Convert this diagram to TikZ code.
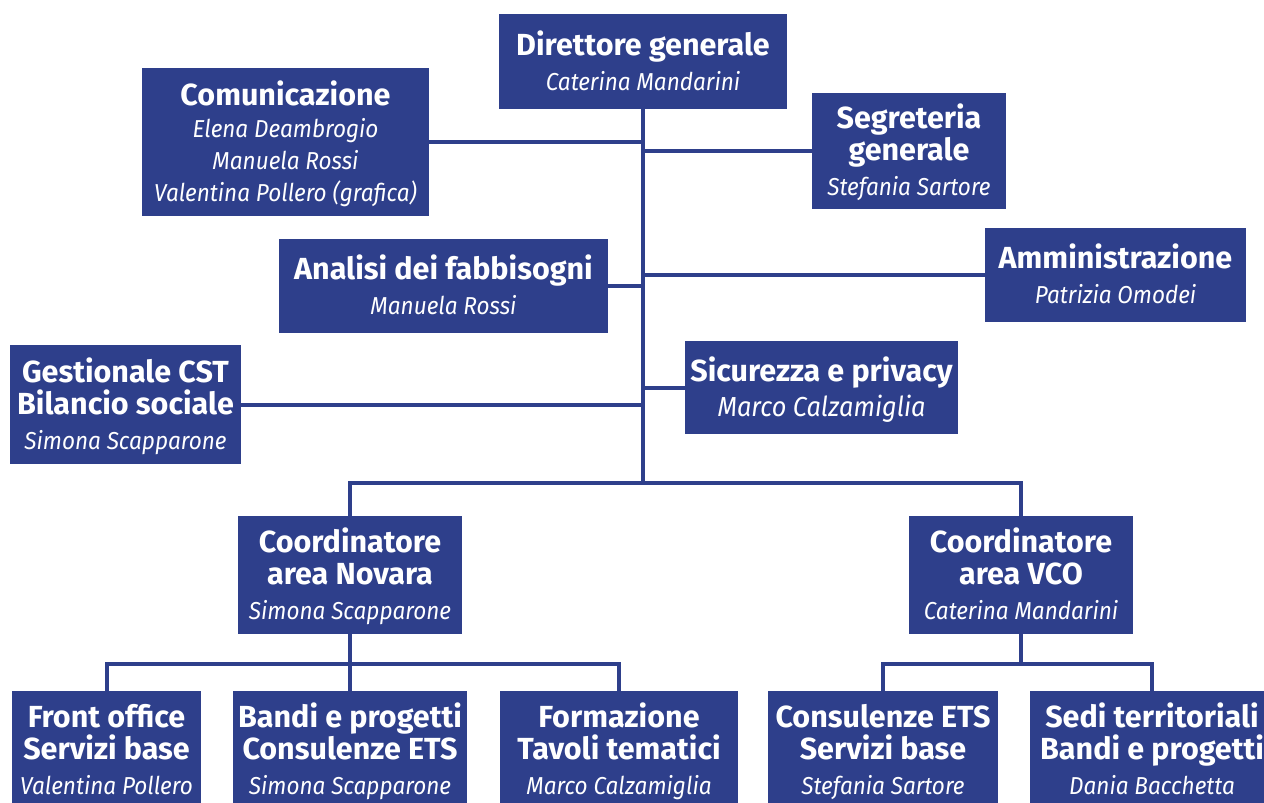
\documentclass[tikz,border=0pt]{standalone}
\usepackage{fontspec}
\setmainfont{Fira Sans}
\newfontfamily\itfam[FakeStretch=0.92]{Fira Sans}
\definecolor{cblue}{HTML}{2E3F8B}
\newcommand{\ttl}{\fontsize{30.5}{32}\selectfont\bfseries}
\newcommand{\nme}{\itfam\fontsize{24.5}{32}\selectfont\mdseries\itshape}
\newcommand{\nmebig}{\itfam\fontsize{27.5}{32}\selectfont\mdseries\itshape}
\newcommand{\tops}{\rule{0pt}{32pt}}
\tikzset{
  org/.style={fill=cblue,text=white,inner sep=0pt,align=center,font=\ttl},
  link/.style={draw=cblue,line width=4pt}
}
\begin{document}
\begin{tikzpicture}[x=1pt,y=-1pt]
\useasboundingbox (0,0) rectangle (1264,803);
\node[org,minimum width=288,minimum height=95] (dir) at (643,61.5) {\tops Direttore generale\\[3pt]\nme Caterina Mandarini\strut};
\node[org,minimum width=287,minimum height=148] (com) at (285.5,142) {\tops Comunicazione\\\nme Elena Deambrogio\\\nme Manuela Rossi\\\nme Valentina Pollero (grafica)\strut};
\node[org,minimum width=194,minimum height=116] (seg) at (909,151) {\tops Segreteria\\generale\\[3pt]\nme Stefania Sartore\strut};
\node[org,minimum width=329,minimum height=94] (ana) at (443.5,286) {\tops Analisi dei fabbisogni\\[3pt]\nme Manuela Rossi\strut};
\node[org,minimum width=261,minimum height=94] (amm) at (1115.5,275) {\tops Amministrazione\\[3pt]\nme Patrizia Omodei\strut};
\node[org,minimum width=231,minimum height=119] (ges) at (125.5,404.5) {\tops Gestionale CST\\Bilancio sociale\\[3pt]\nme Simona Scapparone\strut};
\node[org,minimum width=273,minimum height=93] (sic) at (821.5,387.5) {\tops Sicurezza e privacy\\[3pt]\nmebig Marco Calzamiglia\strut};
\node[org,minimum width=224,minimum height=118] (nov) at (350,575) {\tops Coordinatore\\area Novara\\[3pt]\nme Simona Scapparone\strut};
\node[org,minimum width=224,minimum height=118] (vco) at (1021,575) {\tops Coordinatore\\area VCO\\[3pt]\nme Caterina Mandarini\strut};
\node[org,minimum width=189,minimum height=118] (front) at (106.5,750) {\tops Front office\\Servizi base\\[3pt]\nme Valentina Pollero\strut};
\node[org,minimum width=234,minimum height=118] (bandi) at (350,750) {\tops Bandi e progetti\\Consulenze ETS\\[3pt]\nme Simona Scapparone\strut};
\node[org,minimum width=238,minimum height=118] (form) at (619,750) {\tops Formazione\\Tavoli tematici\\[3pt]\nme Marco Calzamiglia\strut};
\node[org,minimum width=230,minimum height=118] (cons) at (883,750) {\tops Consulenze ETS\\Servizi base\\[3pt]\nme Stefania Sartore\strut};
\node[org,minimum width=244,minimum height=118] (sedi) at (1152,750) {\tops Sedi territoriali\\Bandi e progetti\\[3pt]\nme Dania Bacchetta\strut};
\coordinate (tj) at (643,483);
\coordinate (nj) at (350,664);
\coordinate (vj) at (1021,664);
\draw[link] (dir.south) -- (tj);
\draw[link] (nov.north) |- (tj) -| (vco.north);
\draw[link] (com.east) -- (com.east -| tj);
\draw[link] (seg.west) -- (seg.west -| tj);
\draw[link] (ana.east) -- (ana.east -| tj);
\draw[link] (amm.west) -- (amm.west -| tj);
\draw[link] (ges.east) -- (ges.east -| tj);
\draw[link] (sic.west) -- (sic.west -| tj);
\draw[link] (nov.south) -- (bandi.north);
\draw[link] (front.north) |- (nj) -| (form.north);
\draw[link] (vco.south) -- (vj);
\draw[link] (cons.north) |- (vj) -| (sedi.north);
\end{tikzpicture}
\end{document}
